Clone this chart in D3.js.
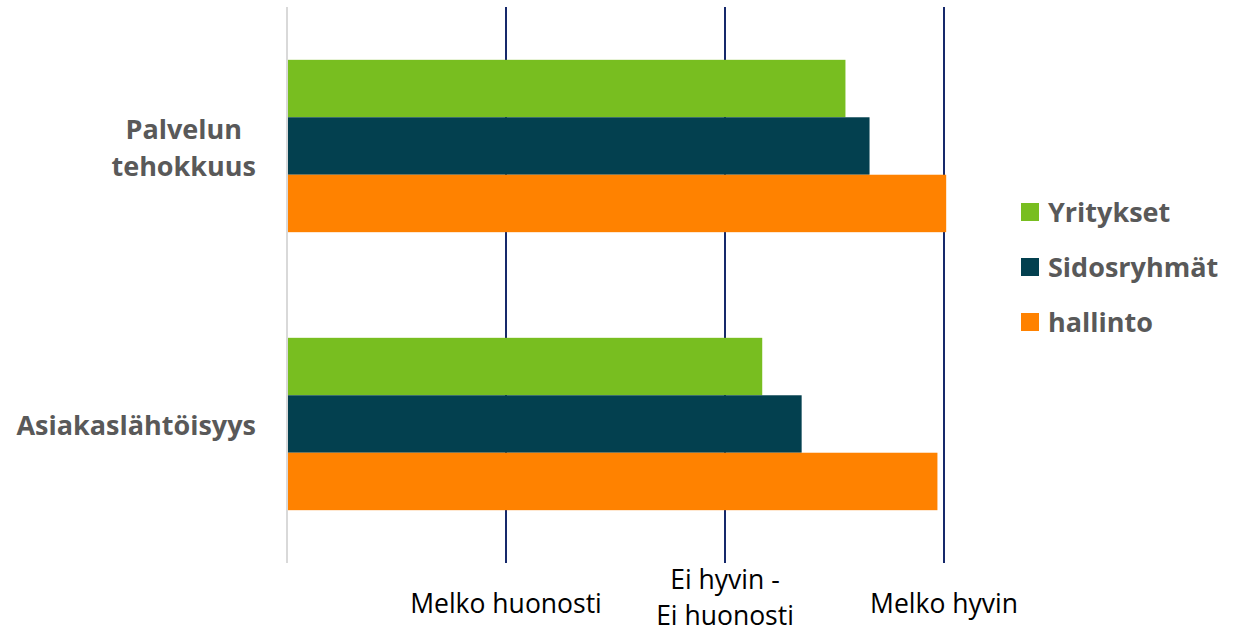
<!DOCTYPE html>
<html>
<head>
<meta charset="utf-8">
<script src="https://cdn.jsdelivr.net/npm/d3@7"></script>
<style>
  body { margin: 0; background: #fff; }
  text { font-family: "Open Sans", "Noto Sans", sans-serif; }
</style>
</head>
<body>
<div id="chart"></div>
<script>
var categories = ["Palvelun tehokkuus", "Asiakaslähtöisyys"];
var categoryLines = [["Palvelun", "tehokkuus"], ["Asiakaslähtöisyys"]];
var seriesNames = ["Yritykset", "Sidosryhmät", "hallinto"];
var yritykset = [3.55, 3.17];
var sidosryhmat = [3.66, 3.35];
var hallinto = [4.01, 3.97];
var tickValues = [2, 3, 4];
var tickLabels = [["Melko huonosti"], ["Ei hyvin -", "Ei huonosti"], ["Melko hyvin"]];

var seriesValues = [yritykset, sidosryhmat, hallinto];
var colors = ["#78be20", "#03404f", "#ff8200"];

var margin = { top: 7, right: 302, bottom: 69, left: 287 },
    fullW = 1246, fullH = 632,
    width = fullW - margin.left - margin.right,
    height = fullH - margin.top - margin.bottom;

var svg = d3.select("#chart").append("svg")
    .attr("width", fullW)
    .attr("height", fullH);

var g = svg.append("g")
    .attr("transform", "translate(" + margin.left + "," + margin.top + ")");

var xScale = d3.scaleLinear()
    .domain([1, 4])
    .range([0, 657]);

var yScale = d3.scaleBand()
    .domain(categories)
    .range([0, height])
    .paddingInner(0.38)
    .paddingOuter(0.19);

var ySub = d3.scaleBand()
    .domain(seriesNames)
    .range([0, yScale.bandwidth()]);

// gridlines
g.selectAll(".grid")
    .data(tickValues)
    .enter().append("line")
    .attr("class", "grid")
    .attr("x1", function (d) { return xScale(d); })
    .attr("x2", function (d) { return xScale(d); })
    .attr("y1", 0)
    .attr("y2", height)
    .attr("stroke", "#16296b")
    .attr("stroke-width", 2);

// left axis line
g.append("line")
    .attr("x1", 0).attr("x2", 0)
    .attr("y1", 0).attr("y2", height)
    .attr("stroke", "#d9d9d9")
    .attr("stroke-width", 2);

// bars
var groups = g.selectAll(".cat")
    .data(categories)
    .enter().append("g")
    .attr("class", "cat")
    .attr("transform", function (d) { return "translate(0," + yScale(d) + ")"; });

groups.selectAll("rect")
    .data(function (d, i) {
        return seriesNames.map(function (s, j) {
            return { key: s, value: seriesValues[j][i], color: colors[j] };
        });
    })
    .enter().append("rect")
    .attr("x", 1)
    .attr("y", function (d) { return ySub(d.key); })
    .attr("width", function (d) { return xScale(d.value) - 1; })
    .attr("height", ySub.bandwidth())
    .attr("fill", function (d) { return d.color; });

// x tick labels
var xLab = svg.selectAll(".xlab")
    .data(tickValues)
    .enter().append("text")
    .attr("class", "xlab")
    .attr("text-anchor", "middle")
    .attr("fill", "#000")
    .style("font-size", "26.5px");

xLab.each(function (d, i) {
    var lines = tickLabels[i];
    var lh = 36;
    var startY = (lines.length > 1) ? 589 : 613;
    var t = d3.select(this);
    lines.forEach(function (l, k) {
        t.append("tspan")
            .attr("x", margin.left + xScale(d))
            .attr("y", startY + k * lh)
            .text(l);
    });
});

// category labels
var cLab = svg.selectAll(".clab")
    .data(categories)
    .enter().append("text")
    .attr("class", "clab")
    .attr("text-anchor", "middle")
    .attr("fill", "#595959")
    .style("font-size", "27px")
    .style("font-weight", "bold");

cLab.each(function (d, i) {
    var lines = categoryLines[i];
    var lh = 37;
    var t = d3.select(this);
    var cy = margin.top + yScale(d) + yScale.bandwidth() / 2;
    lines.forEach(function (l, k) {
        t.append("tspan")
            .attr("y", cy - (lines.length - 1) * lh / 2 + k * lh + 11)
            .text(l);
    });
    var maxW = 0;
    t.selectAll("tspan").each(function () {
        maxW = Math.max(maxW, this.getComputedTextLength());
    });
    t.selectAll("tspan").attr("x", 256 - maxW / 2);
});

// legend
var legend = svg.selectAll(".legend")
    .data(seriesNames)
    .enter().append("g")
    .attr("class", "legend")
    .attr("transform", function (d, i) {
        return "translate(1021," + (212 + i * 55) + ")";
    });

legend.append("rect")
    .attr("x", 0)
    .attr("y", -9)
    .attr("width", 18)
    .attr("height", 18)
    .attr("fill", function (d, i) { return colors[i]; });

legend.append("text")
    .attr("x", 27)
    .attr("y", 10)
    .attr("fill", "#595959")
    .style("font-size", "27px")
    .style("font-weight", "bold")
    .text(function (d) { return d; });
</script>
</body>
</html>
